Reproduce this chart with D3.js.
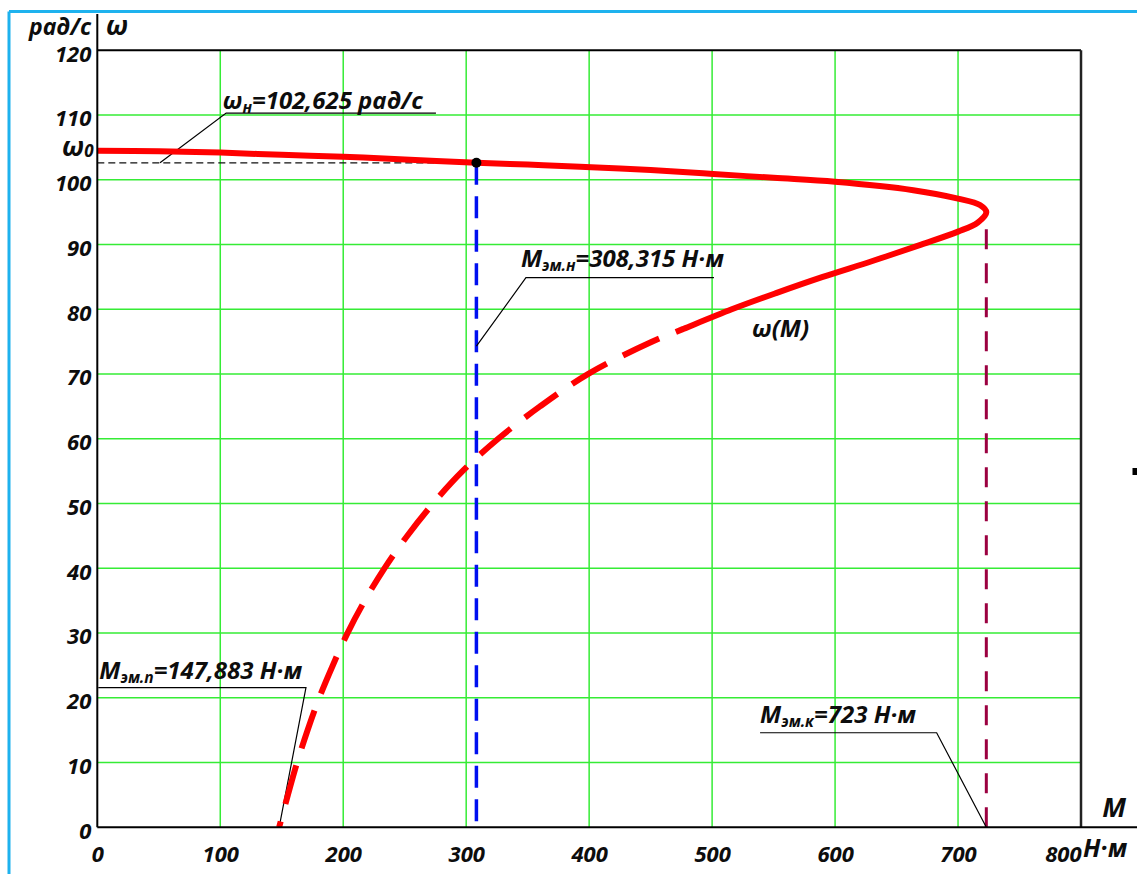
<!DOCTYPE html>
<html>
<head>
<meta charset="utf-8">
<script src="https://cdn.jsdelivr.net/npm/d3@7"></script>
<style>
  body { margin: 0; background: #fff; }
  svg text { font-family: "Open Sans", "DejaVu Sans", sans-serif; font-weight: 700; font-style: italic; fill: #0d0d0d; }
</style>
</head>
<body>
<svg id="chart" width="1137" height="874"></svg>
<script>
// Axis ticks
const torqueTicks = [0, 100, 200, 300, 400, 500, 600, 700, 800];
const speedTicks = [0, 10, 20, 30, 40, 50, 60, 70, 80, 90, 100, 110, 120];

// Mechanical characteristic ω(M): idle speed → critical torque → back down (solid part)
const solidTorque = [0, 50, 100, 150, 200, 250, 308.315, 350, 392.5, 450, 501, 550, 600, 663.6, 700, 717.8, 723,
                     716, 700, 670, 631, 590, 552, 516, 477, 470.5];
const solidSpeed  = [104.5, 104.4, 104.2, 103.85, 103.55, 103.15, 102.625, 102.35, 102.0, 101.5, 100.9, 100.3, 99.7, 98.4, 97.1, 96.1, 95.0,
                     93.4, 92.0, 90.0, 87.5, 85.0, 82.5, 80.0, 77.0, 76.5];
// Unstable part of ω(M), down to starting torque (dashed)
const dashedTorque = [470.5, 451, 399, 360, 326, 297, 273, 252, 233.5, 217.5, 203.5, 191.5, 180.5, 171, 162.5, 155, 147.883];
const dashedSpeed  = [76.5, 75, 70, 65, 60, 55, 50, 45, 40, 35, 30, 25, 20, 15, 10, 5, 0];

// Characteristic points
const ratedTorque = 308.315, ratedSpeed = 102.625;
const startTorque = 147.883;
const criticalTorque = 723, criticalSpeed = 95;

const svg = d3.select("#chart");
const W = 1137, H = 874;
svg.append("rect").attr("width", W).attr("height", H).attr("fill", "#fff");

const x = d3.scaleLinear().domain([0, 800]).range([97.3, 1081]);
const y = d3.scaleLinear().domain([0, 120]).range([827.3, 50.3]);

// Sheet frame
svg.append("line").attr("x1", 9).attr("y1", 11.5).attr("x2", W).attr("y2", 11.5)
  .attr("stroke", "#1eb2ee").attr("stroke-width", 3);
svg.append("line").attr("x1", 9).attr("y1", 11.5).attr("x2", 9).attr("y2", H)
  .attr("stroke", "#1eb2ee").attr("stroke-width", 3);

// Grid
const gridColor = "#35ec35";
const grid = svg.append("g");
grid.selectAll(".gx").data(torqueTicks.slice(1, -1)).join("line")
  .attr("x1", d => x(d)).attr("x2", d => x(d)).attr("y1", y(0)).attr("y2", y(120))
  .attr("stroke", gridColor).attr("stroke-width", 1.5);
grid.selectAll(".gy").data(speedTicks.slice(1, -1)).join("line")
  .attr("y1", d => y(d)).attr("y2", d => y(d)).attr("x1", x(0)).attr("x2", x(800))
  .attr("stroke", gridColor).attr("stroke-width", 1.5);

// Rated speed guide
svg.append("line").attr("x1", x(0)).attr("x2", x(ratedTorque)).attr("y1", y(ratedSpeed)).attr("y2", y(ratedSpeed))
  .attr("stroke", "#111").attr("stroke-width", 1.3).attr("stroke-dasharray", "7 4");
// Rated torque guide
svg.append("line").attr("x1", x(ratedTorque)).attr("x2", x(ratedTorque)).attr("y1", y(ratedSpeed)).attr("y2", y(0))
  .attr("stroke", "#0010f0").attr("stroke-width", 3.5).attr("stroke-dasharray", "22 11.5");
// Critical torque guide
svg.append("line").attr("x1", x(criticalTorque)).attr("x2", x(criticalTorque)).attr("y1", y(0)).attr("y2", y(criticalSpeed))
  .attr("stroke", "#9b0040").attr("stroke-width", 3).attr("stroke-dasharray", "20 14");

// Leader lines for callouts (in data units)
const leaders = [
  [[51, ratedSpeed], [104.8, 110.3], [275.4, 110.3]],
  [[ratedTorque, 74.3], [348.6, 84.9], [501.5, 84.9]],
  [[startTorque, 0], [169.7, 21.56], [0.8, 21.56]],
  [[criticalTorque, 0], [682.6, 14.6], [539, 14.6]]
];
const lineGen = d3.line().x(d => x(d[0])).y(d => y(d[1]));
svg.selectAll(".leader").data(leaders).join("path")
  .attr("d", lineGen).attr("fill", "none").attr("stroke", "#000").attr("stroke-width", 1.2);

// ω(M) curve
const curveGen = d3.line().x(d => x(d[0])).y(d => y(d[1])).curve(d3.curveCatmullRom.alpha(0.5));
const solidPts = solidTorque.map((m, i) => [m, solidSpeed[i]]);
const dashedPts = dashedTorque.map((m, i) => [m, dashedSpeed[i]]);
svg.append("path").attr("d", curveGen(solidPts)).attr("fill", "none")
  .attr("stroke", "#ff0000").attr("stroke-width", 6).attr("stroke-linejoin", "round");
svg.append("path").attr("d", curveGen(dashedPts)).attr("fill", "none")
  .attr("stroke", "#ff0000").attr("stroke-width", 6)
  .attr("stroke-dasharray", "40 18").attr("stroke-dashoffset", 40);

// Rated operating point
svg.append("circle").attr("cx", x(ratedTorque)).attr("cy", y(ratedSpeed)).attr("r", 5).attr("fill", "#000");

// Axes frame
const ax = svg.append("g").attr("stroke", "#000").attr("stroke-width", 2);
ax.append("line").attr("x1", x(0)).attr("x2", x(0)).attr("y1", 14).attr("y2", y(0));
ax.append("line").attr("x1", x(0)).attr("x2", x(800)).attr("y1", y(120)).attr("y2", y(120));
ax.append("line").attr("x1", x(800)).attr("x2", x(800)).attr("y1", y(120)).attr("y2", y(0)).attr("stroke", "#222").attr("stroke-width", 2.5);
ax.append("line").attr("x1", x(0)).attr("x2", W).attr("y1", y(0)).attr("y2", y(0));

// Tick labels
const xAxis = svg.append("g").attr("transform", `translate(0,${y(0)})`)
  .call(d3.axisBottom(x).tickValues(torqueTicks).tickSize(0).tickFormat(d3.format("d")));
xAxis.select(".domain").remove();
xAxis.selectAll("text").attr("dy", null).attr("y", 34.5)
  .style("font-size", "22px").attr("fill", "#0d0d0d")
  .filter(d => d === 800).attr("text-anchor", "end");

const yAxis = svg.append("g").attr("transform", `translate(${x(0)},0)`)
  .call(d3.axisLeft(y).tickValues(speedTicks).tickSize(0).tickFormat(d3.format("d")));
yAxis.select(".domain").remove();
yAxis.selectAll("text").attr("dy", null).attr("x", -6).attr("y", 10.7)
  .style("font-size", "22px").attr("fill", "#0d0d0d");

// Axis titles
svg.append("text").attr("x", 91).attr("y", 35).attr("text-anchor", "end").style("font-size", "23px").text("рад/с");
svg.append("text").attr("x", 106).attr("y", 35).style("font-size", "27px").text("ω");
svg.append("text").attr("x", 1126).attr("y", 817).attr("text-anchor", "end").style("font-size", "27px").text("M");
svg.append("text").attr("x", 1083).attr("y", 856.7).style("font-size", "25px").text("Н·м");

// ω0 on the speed axis
const w0 = svg.append("text").attr("x", 62).attr("y", 156).style("font-size", "27px");
w0.append("tspan").text("ω");
w0.append("tspan").attr("dy", 1).style("font-size", "17px").text("0");

// Callout labels
function callout(xp, yp, main, sub, rest) {
  const t = svg.append("text").attr("x", xp).attr("y", yp).style("font-size", "24px");
  t.append("tspan").text(main);
  t.append("tspan").attr("dy", 4).style("font-size", "15.5px").text(sub);
  t.append("tspan").attr("dy", -4).text(rest);
}
callout(x(102), y(ratedSpeed) - 54, "ω", "н", "=102,625 рад/с");
callout(x(344.5), y(84.9) - 11, "M", "эм.н", "=308,315 Н·м");
callout(x(1.6), y(21.56) - 9, "M", "эм.п", "=147,883 Н·м");
callout(x(539), y(14.6) - 10, "M", "эм.к", "=723 Н·м");

svg.append("text").attr("x", 752).attr("y", 337).style("font-size", "24px").text("ω(M)");

// Stray mark at right edge
svg.append("rect").attr("x", 1132.5).attr("y", 468).attr("width", 5).attr("height", 7).attr("fill", "#000");
</script>
</body>
</html>
